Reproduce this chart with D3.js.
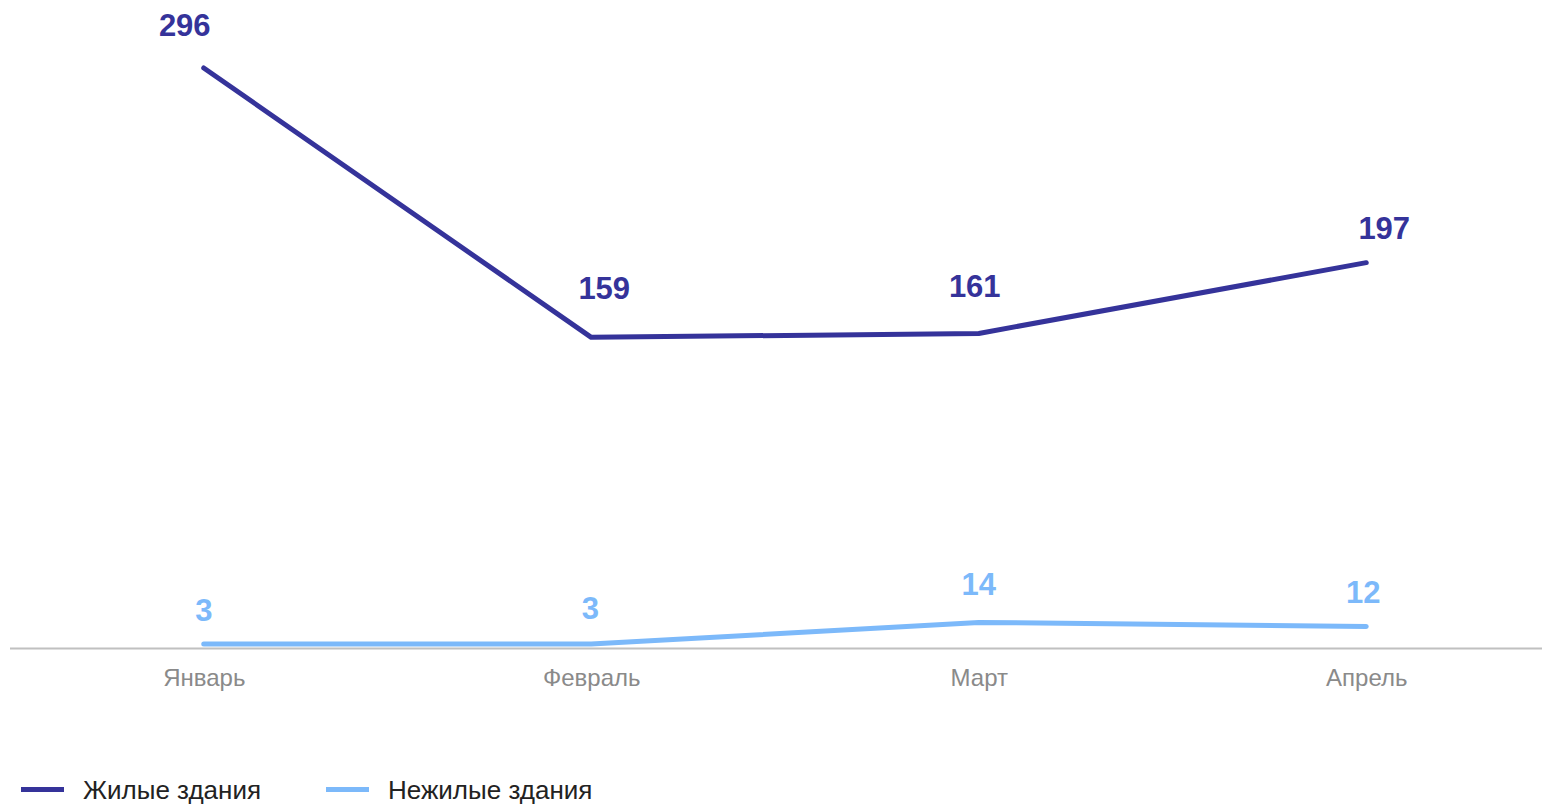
<!DOCTYPE html>
<html>
<head>
<meta charset="utf-8">
<script src="https://cdn.jsdelivr.net/npm/d3@7/dist/d3.min.js"></script>
<style>
  html, body { margin: 0; padding: 0; background: #ffffff; }
  svg { display: block; }
</style>
</head>
<body>
<svg id="chart" width="1542" height="804"></svg>
<script>
// ---- Data ----
const months = ["Январь", "Февраль", "Март", "Апрель"];
const residential = [296, 159, 161, 197];
const nonResidential = [3, 3, 14, 12];
const seriesNames = ["Жилые здания", "Нежилые здания"];

// ---- Layout / style (not data) ----
const colors = ["#35339a", "#7cb9fa"];
// label nudges (dx, dy above point) to mimic reference placement
const labelNudge = [
  [[-19, -32], [13, -38], [-4, -36], [18, -24]],
  [[0, -23], [-1, -25], [0, -27], [-3, -23]]
];

const svg = d3.select("#chart");
const W = 1542;

const x = d3.scalePoint().domain(months).range([10, 1560]).padding(0.5);
const y = d3.scaleLinear().domain([0, 296]).range([650, 68]);

// axis baseline
const xAxis = d3.axisBottom(x).tickSize(0).tickPadding(0);
const axisG = svg.append("g").attr("transform", "translate(0,648.5)").call(xAxis);
axisG.select(".domain").remove();
svg.append("line")
  .attr("x1", 10).attr("x2", W)
  .attr("y1", 648.5).attr("y2", 648.5)
  .attr("stroke", "#c0c0c0").attr("stroke-width", 2);
axisG.selectAll(".tick text")
  .attr("y", 37)
  .attr("dy", 0)
  .attr("fill", "#8a8a8a")
  .style("font-family", "'Liberation Sans', Arial, sans-serif")
  .style("font-size", "24px");

const series = [residential, nonResidential];
const line = d3.line().x((d, i) => x(months[i])).y(d => y(d));

series.forEach((vals, si) => {
  svg.append("path")
    .datum(vals)
    .attr("d", line)
    .attr("fill", "none")
    .attr("stroke", colors[si])
    .attr("stroke-width", 5)
    .attr("stroke-linecap", "round")
    .attr("stroke-linejoin", "round");

  svg.append("g").selectAll("text")
    .data(vals)
    .join("text")
    .attr("x", (d, i) => x(months[i]) + labelNudge[si][i][0])
    .attr("y", (d, i) => y(d) + labelNudge[si][i][1])
    .attr("text-anchor", "middle")
    .attr("fill", colors[si])
    .style("font-family", "'Liberation Sans', Arial, sans-serif")
    .style("font-weight", "bold")
    .style("font-size", "31px")
    .text(d => d);
});

// legend
const legendX = [21, 326];
const legend = svg.append("g");
seriesNames.forEach((name, i) => {
  legend.append("line")
    .attr("x1", legendX[i]).attr("x2", legendX[i] + 43)
    .attr("y1", 789.5).attr("y2", 789.5)
    .attr("stroke", colors[i]).attr("stroke-width", 5);
  legend.append("text")
    .attr("x", legendX[i] + 62)
    .attr("y", 799)
    .attr("fill", "#222222")
    .style("font-family", "'Liberation Sans', Arial, sans-serif")
    .style("font-size", "26px")
    .text(name);
});
</script>
</body>
</html>
